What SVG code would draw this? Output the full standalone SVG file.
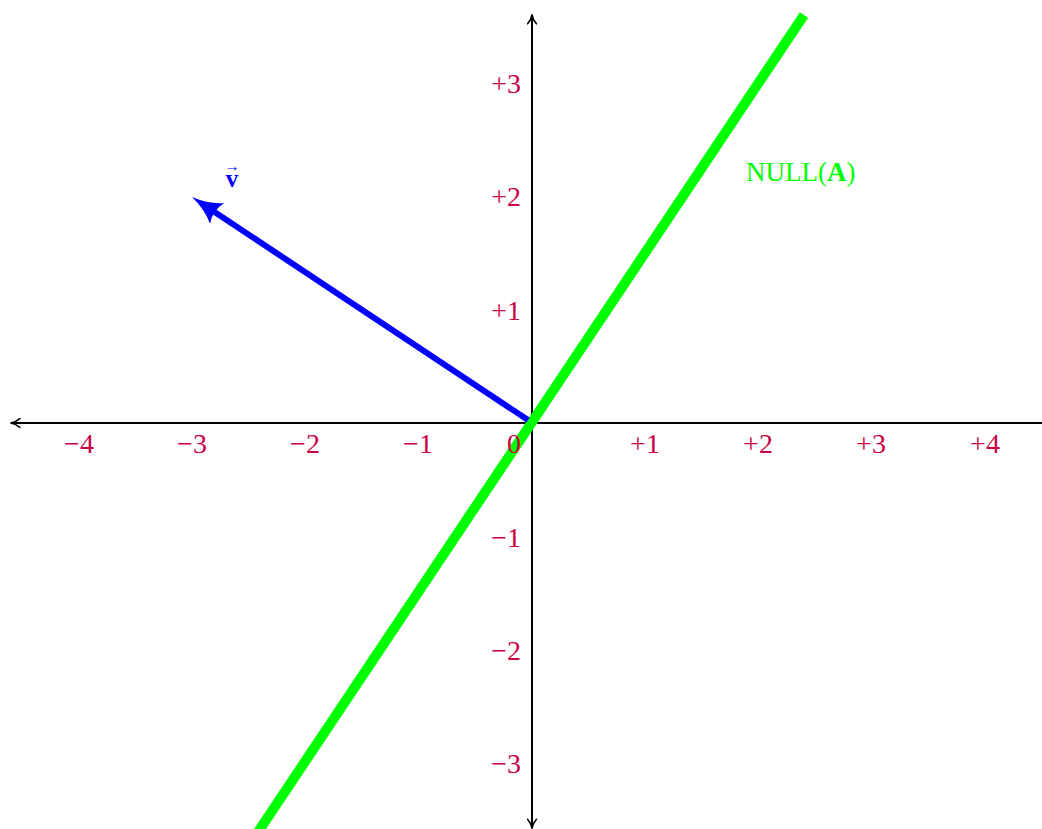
<svg xmlns="http://www.w3.org/2000/svg" width="1042" height="829" viewBox="0 0 1042 829">
<style>
.lbl{font-family:"Liberation Serif","DejaVu Serif",serif;font-size:28px;fill:#cc0044}
.ax{stroke:#000;stroke-width:2;fill:none}
</style>
<defs>
<marker id="ah" viewBox="0 0 10 10" refX="9" refY="5" markerWidth="11" markerHeight="11" markerUnits="userSpaceOnUse" orient="auto">
<path d="M1,1 Q5,4.5 9.5,5 Q5,5.5 1,9" fill="none" stroke="#000" stroke-width="1.4" stroke-linecap="round"/>
</marker>
<marker id="bh" viewBox="0 0 10 10" refX="5.5" refY="5" markerWidth="30" markerHeight="30" markerUnits="userSpaceOnUse" orient="auto">
<path d="M0,0.8 Q4,3.9 10,5 Q4,6.1 0,9.2 Q2,5 0,0.8 Z" fill="#0000ff"/>
</marker>
</defs>
<rect width="1042" height="829" fill="#fff"/>
<g id="connectors">
<line class="ax" x1="1042" y1="423" x2="11" y2="423" marker-end="url(#ah)"/>
<line class="ax" x1="532" y1="423" x2="532" y2="15" marker-end="url(#ah)"/>
<line class="ax" x1="532" y1="423" x2="532" y2="828" marker-end="url(#ah)"/>
<line x1="258" y1="832" x2="804" y2="15" stroke="#00ff00" stroke-width="10"/>
<line x1="528" y1="420" x2="203.3" y2="204.5" stroke="#0000ff" stroke-width="6" marker-end="url(#bh)"/>
</g>
<g id="xlabels" class="lbl" text-anchor="middle">
<text x="79" y="453">−4</text>
<text x="192" y="453">−3</text>
<text x="305" y="453">−2</text>
<text x="418" y="453">−1</text>
<text x="645" y="453">+1</text>
<text x="758" y="453">+2</text>
<text x="871" y="453">+3</text>
<text x="985" y="453">+4</text>
</g>
<g id="ylabels" class="lbl" text-anchor="end">
<text x="521" y="93">+3</text>
<text x="521" y="206">+2</text>
<text x="521" y="320">+1</text>
<text x="521" y="547">−1</text>
<text x="521" y="660">−2</text>
<text x="521" y="773">−3</text>
</g>
<g id="origin"><text class="lbl" x="514" y="453" text-anchor="middle">0</text></g>
<g id="null-label"><text x="746" y="181" style="font-family:'Liberation Serif','DejaVu Serif',serif;font-size:27px;fill:#00ff00">NULL(<tspan font-weight="bold">A</tspan>)</text></g>
<g id="v-label"><text style="font-family:'Liberation Serif','DejaVu Serif',serif;font-weight:bold;fill:#0000ff" text-anchor="middle"><tspan x="232" y="187" font-size="25">v</tspan><tspan x="232" y="171" font-size="15">→</tspan></text></g>
</svg>
